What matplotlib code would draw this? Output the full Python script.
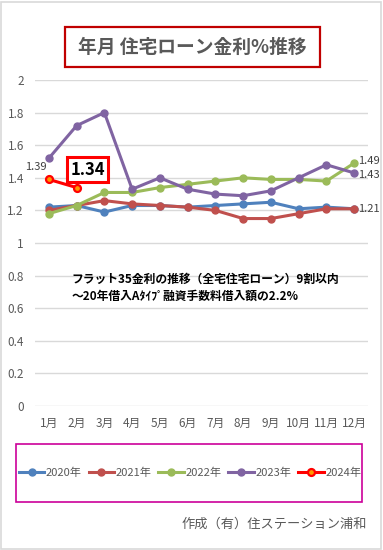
import matplotlib
matplotlib.use("Agg")
from matplotlib import pyplot as plt
from matplotlib.patches import Rectangle

plt.rcParams['font.family'] = ['Noto Sans CJK JP', 'DejaVu Sans']

months = ["1月", "2月", "3月", "4月", "5月", "6月", "7月", "8月", "9月", "10月", "11月", "12月"]
y2020 = [1.22, 1.23, 1.19, 1.23, 1.23, 1.22, 1.23, 1.24, 1.25, 1.21, 1.22, 1.21]
y2021 = [1.20, 1.23, 1.26, 1.24, 1.23, 1.22, 1.20, 1.15, 1.15, 1.18, 1.21, 1.21]
y2022 = [1.18, 1.23, 1.31, 1.31, 1.34, 1.36, 1.38, 1.40, 1.39, 1.39, 1.38, 1.49]
y2023 = [1.52, 1.72, 1.80, 1.33, 1.40, 1.33, 1.30, 1.29, 1.32, 1.40, 1.48, 1.43]
y2024 = [1.39, 1.34]
series_names = ["2020年", "2021年", "2022年", "2023年", "2024年"]
yticks = [0, 0.2, 0.4, 0.6, 0.8, 1, 1.2, 1.4, 1.6, 1.8, 2]
ytick_labels = ["0", "0.2", "0.4", "0.6", "0.8", "1", "1.2", "1.4", "1.6", "1.8", "2"]

colors = ["#4F81BD", "#C0504D", "#9BBB59", "#8064A2", "#FF0000"]
gray = "#595959"

fig = plt.figure(figsize=(3.83, 5.5), dpi=100)
# outer frame
fig.patches.append(Rectangle((0.003, 0.002), 0.992, 0.994, transform=fig.transFigure,
                             fill=False, ec="#D9D9D9", lw=1.2))

ax = fig.add_axes([35/383, 144/550, 333/383, 326/550])
x = list(range(len(months)))
all_series = [y2020, y2021, y2022, y2023]
for vals, c, name in zip(all_series, colors[:4], series_names[:4]):
    ax.plot(x[:len(vals)], vals, color=c, lw=2.2, marker="o", ms=5, label=name, zorder=3)
ax.plot(x[:len(y2024)], y2024, color=colors[4], lw=2.2, marker="o", ms=5,
        mfc="#FF9900", mec=colors[4], mew=1.6, label=series_names[4], zorder=4)

ax.set_xlim(-0.5, len(months) - 0.5)
ax.set_ylim(0, 2)
ax.set_yticks(yticks)
ax.set_yticklabels(ytick_labels)
ax.set_xticks(x)
ax.set_xticklabels(months)
ax.tick_params(length=0, labelsize=8.5, labelcolor=gray, pad=8)
ax.tick_params(axis="y", pad=8)
ax.grid(axis="y", color="#D9D9D9", lw=1)
ax.set_axisbelow(True)
for s in ax.spines.values():
    s.set_visible(False)

# data labels
ax.annotate(f"{y2024[0]:.2f}", (x[0], y2024[0]), xytext=(-9, 9), textcoords="offset points",
            ha="center", va="center", fontsize=8, color="#404040")
ax.annotate(f"{y2024[1]:.2f}", (x[1], y2024[1]), xytext=(8, 13), textcoords="offset points",
            ha="center", va="center", fontsize=12, fontweight="bold", color="black",
            bbox=dict(boxstyle="square,pad=0.2", fc="white", ec="#FF0000", lw=2.2))
for vals, dy in [(y2022, 1.5), (y2023, -1.5), (y2020, 0)]:
    ax.annotate(f"{vals[-1]:.2f}", (x[-1], vals[-1]), xytext=(3, dy), textcoords="offset points",
                ha="left", va="center", fontsize=8, color="#404040")

ax.text(0.83, 0.725, "フラット35金利の推移（全宅住宅ローン）9割以内\n～20年借入Aﾀｲﾌﾟ融資手数料借入額の2.2%",
        fontsize=8.5, fontweight="bold", color="black", ha="left", va="center", linespacing=1.35)

# title
fig.patches.append(Rectangle((65/383, 1 - 67/550), 255/383, 40/550, transform=fig.transFigure,
                             fill=False, ec="#C00000", lw=1.6))
fig.text(192.5/383, 1 - 47/550, "年月 住宅ローン金利%推移", ha="center", va="center",
         fontsize=13.5, fontweight="bold", color=gray)

# legend
fig.patches.append(Rectangle((16/383, 1 - 502/550), 346/383, 58/550, transform=fig.transFigure,
                             fill=False, ec="#CC0099", lw=1.2))
fig.legend(loc="center", bbox_to_anchor=(190/383, 1 - 473/550), ncol=5, frameon=False,
           fontsize=8, handlelength=2.3, handletextpad=0.15, columnspacing=0.6,
           labelcolor=gray)

fig.text(367/383, 1 - 524/550, "作成（有）住ステーション浦和", ha="right", va="center",
         fontsize=9.5, color=gray)

fig.savefig("out.png", dpi=100)
